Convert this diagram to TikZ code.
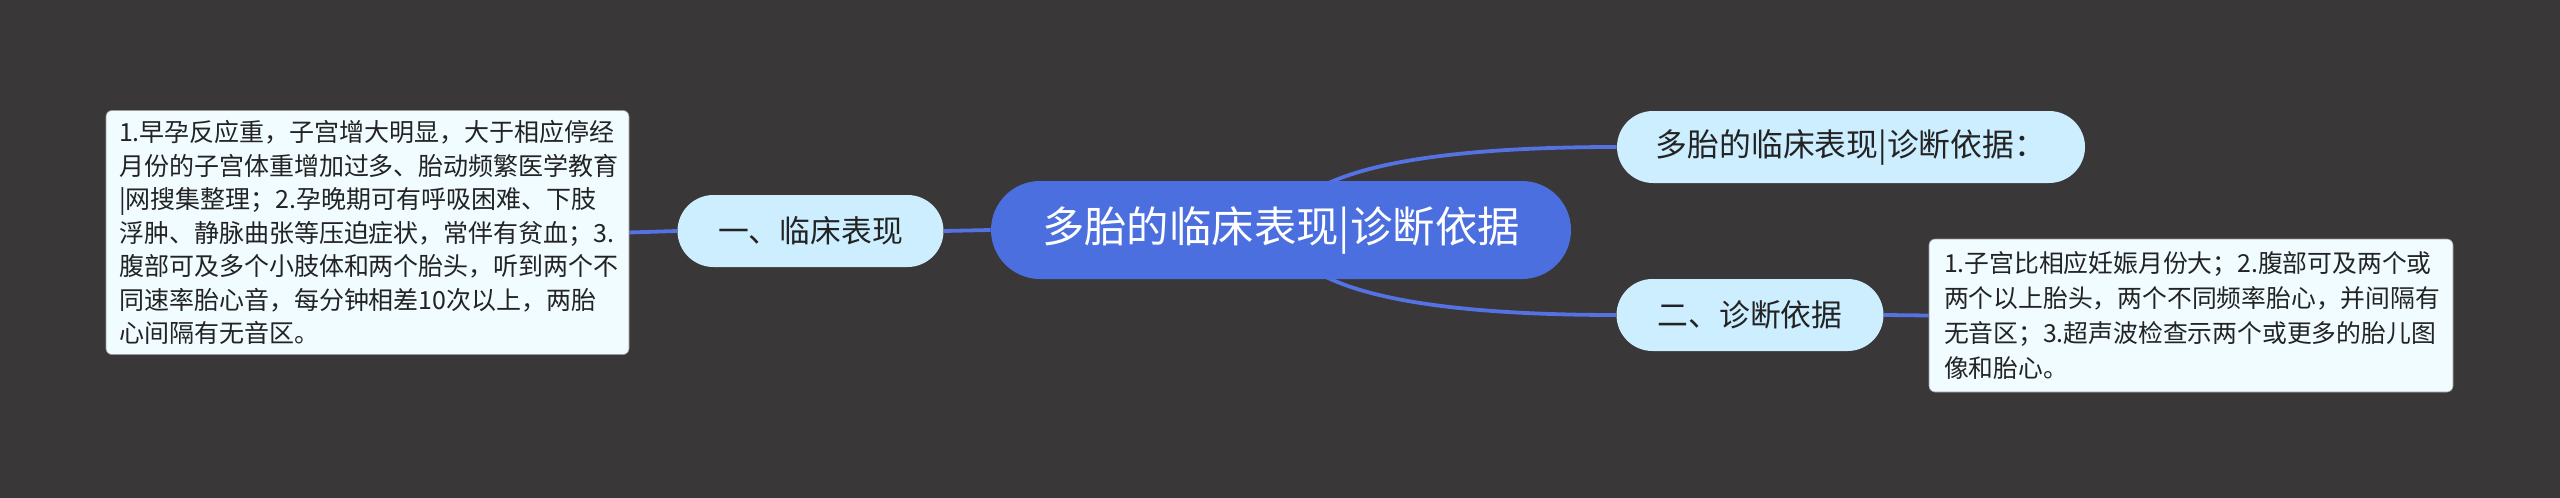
\documentclass[tikz,border=0pt]{standalone}
\usepackage{fontspec}
\setmainfont{Noto Sans CJK SC}
\definecolor{bgc}{RGB}{57,55,56}
\definecolor{rootc}{RGB}{76,111,224}
\definecolor{linkc}{RGB}{84,114,226}
\definecolor{branchc}{RGB}{204,238,255}
\definecolor{leafc}{RGB}{240,252,255}
\definecolor{txtc}{RGB}{35,35,35}
\pgfdeclarelayer{bg}
\pgfsetlayers{bg,main}
\tikzset{
  rootbox/.style={fill=rootc, text=white, rounded corners=24.5pt, minimum width=290pt, minimum height=49pt, inner sep=0pt, font=\fontsize{21.2}{25}\selectfont},
  branchbox/.style={fill=branchc, text=txtc, rounded corners=18pt, minimum height=36pt, inner sep=0pt, font=\fontsize{15.4}{18}\selectfont},
  leafbox/.style={fill=leafc, draw=black!40, line width=0.3pt, text=txtc, rounded corners=3pt, align=left, inner ysep=0pt},
  link/.style={draw=linkc, line width=1.9pt}
}
\begin{document}
\begin{tikzpicture}[x=0.5pt,y=-0.5pt]
\useasboundingbox (0,0) rectangle (2560,498);
\begin{pgfonlayer}{bg}
\fill[bgc] (0,0) rectangle (2560,498);
\end{pgfonlayer}

\node[rootbox] (root) at (1281,230) {多胎的临床表现|诊断依据};
\node[branchbox, minimum width=133pt] (b1) at (810.5,231) {一、临床表现};
\node[branchbox, minimum width=234pt, font=\fontsize{15.9}{18}\selectfont] (b0) at (1851,147) {多胎的临床表现|诊断依据：};
\node[branchbox, minimum width=133.5pt] (b2) at (1750,315) {二、诊断依据};

\node[leafbox, minimum width=261.5pt, minimum height=122pt, inner xsep=6.5pt, text width=248.5pt,
  font=\fontsize{12.5}{16.75}\selectfont] (l1) at (367.5,232.5)
  {1.早孕反应重，子宫增大明显，大于相应停经\\
   月份的子宫体重增加过多、胎动频繁医学教育\\
   |网搜集整理；2.孕晚期可有呼吸困难、下肢\\
   浮肿、静脉曲张等压迫症状，常伴有贫血；3.\\
   腹部可及多个小肢体和两个胎头，听到两个不\\
   同速率胎心音，每分钟相差10次以上，两胎\\
   心间隔有无音区。};
\node[leafbox, minimum width=262pt, minimum height=76.5pt, inner xsep=7.5pt, text width=247pt,
  font=\fontsize{12.4}{17.5}\selectfont] (l2) at (2191,315.5)
  {1.子宫比相应妊娠月份大；2.腹部可及两个或\\
   两个以上胎头，两个不同频率胎心，并间隔有\\
   无音区；3.超声波检查示两个或更多的胎儿图\\
   像和胎心。};

\begin{pgfonlayer}{bg}
\draw[link] (root.west) -- (b1.east);
\draw[link] (b1.west) -- (l1.east);
\draw[link] (root.center) .. controls +(12.7,-55.3) and +(-211.3,0) .. (b0.west);
\draw[link] (root.center) .. controls +(12.7,56.7) and +(-211.3,0) .. (b2.west);
\draw[link] (b2.east) -- (l2.west);
\end{pgfonlayer}
\end{tikzpicture}
\end{document}
